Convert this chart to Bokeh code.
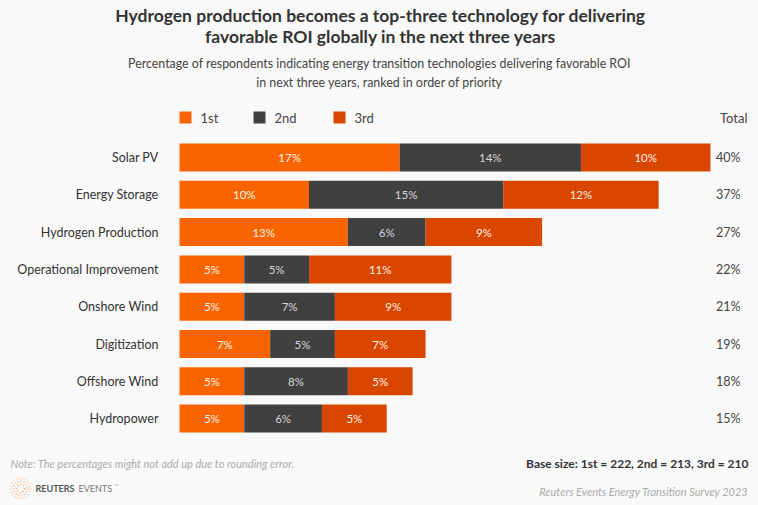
import numpy as np
from bokeh.plotting import figure
from bokeh.models import Range1d, ColumnDataSource
from bokeh.core.properties import value
from bokeh.embed import file_html
from bokeh.resources import INLINE

# ---------------- data ----------------
categories = ["Solar PV", "Energy Storage", "Hydrogen Production",
              "Operational Improvement", "Onshore Wind", "Digitization",
              "Offshore Wind", "Hydropower"]
first = [17, 10, 13, 5, 5, 7, 5, 5]
second = [14, 15, 6, 5, 7, 5, 8, 6]
third = [10, 12, 9, 11, 9, 7, 5, 5]
totals = [40, 37, 27, 22, 21, 19, 18, 15]
series_names = ["1st", "2nd", "3rd"]
base_sizes = [222, 213, 210]

title_lines = ["Hydrogen production becomes a top-three technology for delivering",
               "favorable ROI globally in the next three years"]
subtitle_lines = ["Percentage of respondents indicating energy transition technologies delivering favorable ROI",
                  "in next three years, ranked in order of priority"]
note_text = "Note: The percentages might not add up due to rounding error."
source_text = "Reuters Events Energy Transition Survey 2023"

# ---------------- style / layout ----------------
COLORS = ["#fa6400", "#404040", "#d94600"]
LABEL_COLORS = ["#fff3ea", "#d6d6d6", "#fff0e6"]
BG = "#f9f9f9"
FONT = "Lato"
W, H = 758, 505
PX_PER_UNIT = 12.95      # pixels per percentage point
BAR_X0 = 179             # page x of the 0% line
ROW0, PITCH = 157, 37.3  # page y of first row centre, row pitch


def X(px):
    return (px - BAR_X0) / PX_PER_UNIT


def Y(py):
    return (py - ROW0) / PITCH


p = figure(width=W, height=H, output_backend="svg", toolbar_location=None,
           x_range=Range1d(X(0), X(W)), y_range=Range1d(Y(H), Y(0)),
           min_border=0, background_fill_color=BG, border_fill_color=BG,
           outline_line_color=None)
p.axis.visible = False
p.grid.visible = False

idx = np.arange(len(categories))
vals = np.array([first, second, third], dtype=float)
rights = np.cumsum(vals, axis=0)
lefts = rights - vals

for k in range(3):
    src = ColumnDataSource(dict(
        y=idx, left=lefts[k], right=rights[k],
        mid=(lefts[k] + rights[k]) / 2,
        lab=[f"{int(v)}%" for v in vals[k]]))
    p.hbar(y="y", left="left", right="right", height=0.75, source=src,
           fill_color=COLORS[k], line_color=None)
    p.text(x="mid", y="y", text="lab", source=src, text_align="center",
           text_baseline="middle", text_font=value(FONT),
           text_font_size="11.5px", text_color=LABEL_COLORS[k])

# category labels
p.text(x=[X(158)] * len(categories), y=idx, text=categories,
       text_align="right", text_baseline="middle", text_font=value(FONT),
       text_font_size="12.5px", text_color="#333333")

# totals
p.text(x=[X(740)] * len(totals), y=idx, text=[f"{t}%" for t in totals],
       text_align="right", text_baseline="middle", text_font=value(FONT),
       text_font_size="12.5px", text_color="#444444")
p.text(x=[X(747)], y=[Y(117)], text=["Total"], text_align="right",
       text_baseline="middle", text_font=value(FONT),
       text_font_size="13px", text_color="#444444")

# legend
leg_sq_x = [185, 259, 339]
leg_tx_x = [200, 274, 354]
p.scatter(x=[X(v) for v in leg_sq_x], y=[Y(117)] * 3, marker="square",
          size=12, fill_color=COLORS, line_color=None)
p.text(x=[X(v) for v in leg_tx_x], y=[Y(117)] * 3, text=series_names,
       text_align="left", text_baseline="middle", text_font=value(FONT),
       text_font_size="13px", text_color="#444444")

# title + subtitle
p.text(x=[X(380)] * 2, y=[Y(15), Y(36)], text=title_lines,
       text_align="center", text_baseline="middle", text_font=value(FONT),
       text_font_size="17.5px", text_font_style="bold", text_color="#333333")
p.text(x=[X(379)] * 2, y=[Y(63), Y(82)], text=subtitle_lines,
       text_align="center", text_baseline="middle", text_font=value(FONT),
       text_font_size="12.4px", text_color="#444444")

# footer
p.text(x=[X(10)], y=[Y(463)], text=[note_text], text_align="left",
       text_baseline="middle", text_font=value(FONT), text_font_size="11px",
       text_font_style="italic", text_color="#ababab")
base_text = "Base size: " + ", ".join(f"{n} = {b}" for n, b in zip(series_names, base_sizes))
p.text(x=[X(748)], y=[Y(463)], text=[base_text], text_align="right",
       text_baseline="middle", text_font=value(FONT), text_font_size="12px",
       text_font_style="bold", text_color="#333333")
p.text(x=[X(748)], y=[Y(491)], text=[source_text], text_align="right",
       text_baseline="middle", text_font=value(FONT), text_font_size="11px",
       text_font_style="italic", text_color="#ababab")

# logo: dotted rings + wordmark
for r, a in [(10, 0.55), (7, 0.75), (4, 0.9)]:
    p.scatter(x=[X(20)], y=[Y(488)], marker="circle", size=2 * r,
              fill_color=None, line_color="#f4a259", line_alpha=a,
              line_width=1.6, line_dash="1 2")
p.text(x=[X(35)], y=[Y(488)], text=["REUTERS"], text_align="left",
       text_baseline="middle", text_font=value(FONT), text_font_size="9px",
       text_font_style="bold", text_color="#555555")
p.text(x=[X(78)], y=[Y(488)], text=["EVENTS"], text_align="left",
       text_baseline="middle", text_font=value(FONT), text_font_size="9px",
       text_color="#777777")
p.text(x=[X(114)], y=[Y(485)], text=["\u2122"], text_align="left",
       text_baseline="middle", text_font=value(FONT), text_font_size="5px",
       text_color="#999999")

html = file_html(p, INLINE)
html = html.replace("<body>", '<body style="background:%s">' % BG)
open("out.html", "w").write(html)
